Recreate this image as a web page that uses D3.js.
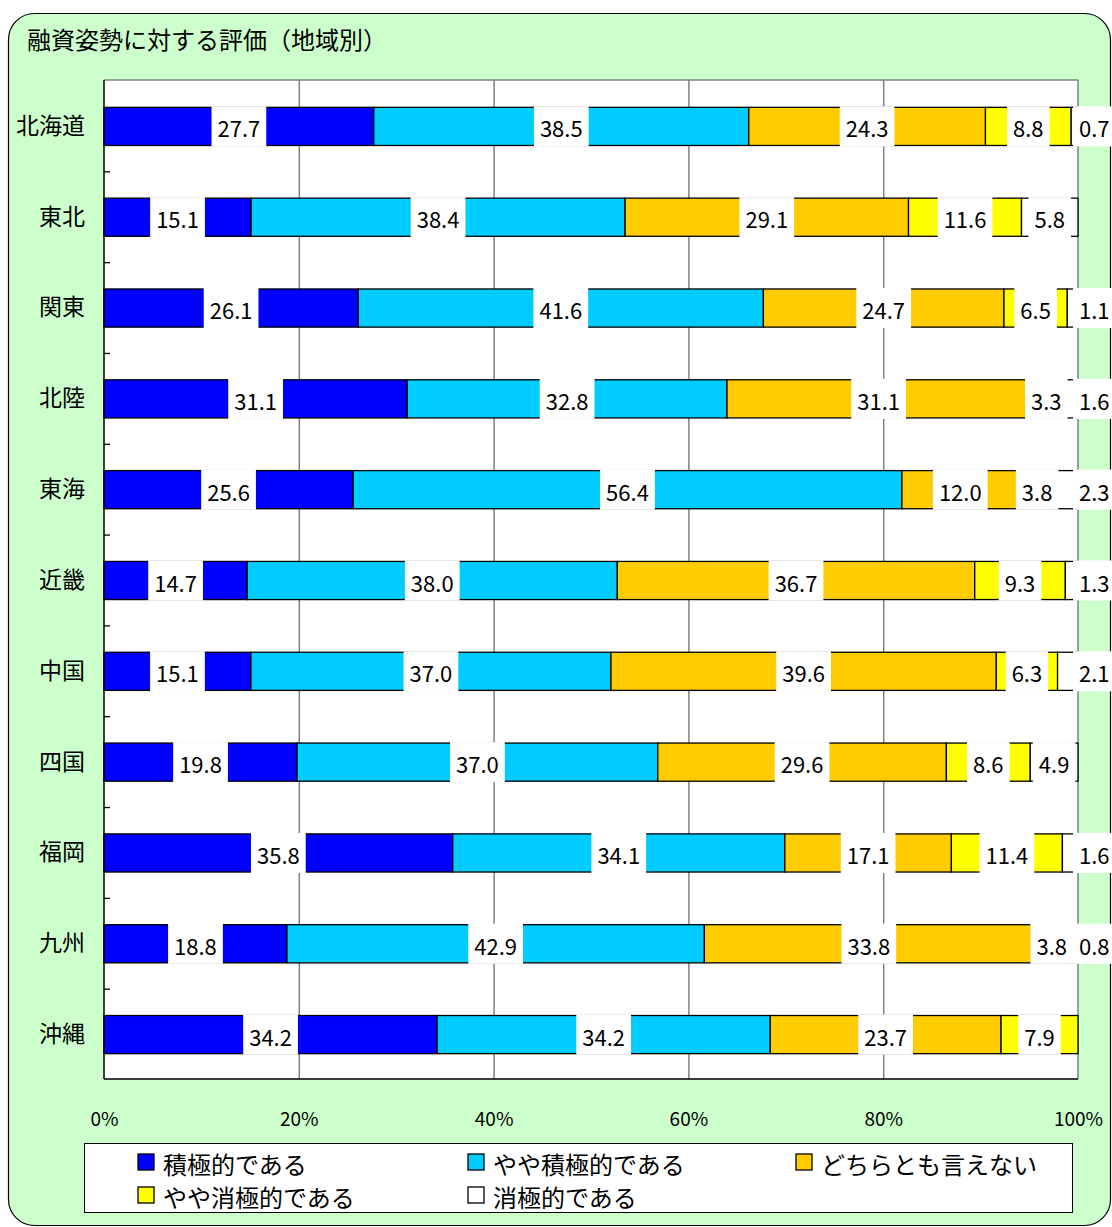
<!DOCTYPE html>
<html><head><meta charset="utf-8">
<script src="https://cdn.jsdelivr.net/npm/d3@7"></script>
<style>html,body{margin:0;padding:0;background:#fff;}svg{display:block;}</style>
</head><body>
<svg id="c" width="1112" height="1227"></svg>
<script>
const title = "融資姿勢に対する評価（地域別）";
const categories = ["北海道","東北","関東","北陸","東海","近畿","中国","四国","福岡","九州","沖縄"];
const seriesNames = ["積極的である","やや積極的である","どちらとも言えない","やや消極的である","消極的である"];
const seriesColors = ["#0000FF","#00CCFF","#FFCC00","#FFFF00","#FFFFFF"];
const positive     = [27.7,15.1,26.1,31.1,25.6,14.7,15.1,19.8,35.8,18.8,34.2];
const fairlyPos    = [38.5,38.4,41.6,32.8,56.4,38.0,37.0,37.0,34.1,42.9,34.2];
const neutral      = [24.3,29.1,24.7,31.1,12.0,36.7,39.6,29.6,17.1,33.8,23.7];
const fairlyNeg    = [8.8,11.6,6.5,3.3,3.8,9.3,6.3,8.6,11.4,3.8,7.9];
const negative     = [0.7,5.8,1.1,1.6,2.3,1.3,2.1,4.9,1.6,0.8,0.0];
const xTicks = [0,20,40,60,80,100];

const seriesValues = [positive,fairlyPos,neutral,fairlyNeg,negative];
const rows = categories.map((c,i)=>{
  const o={cat:c};
  seriesValues.forEach((s,k)=>o["s"+k]=s[i]);
  return o;
});
const keys = seriesNames.map((_,k)=>"s"+k);
const stacked = d3.stack().keys(keys).offset(d3.stackOffsetExpand)(rows);

const svg = d3.select("#c");
const JP = "'Noto Sans CJK JP', sans-serif";

// outer panel
svg.append("rect").attr("x",8.5).attr("y",13.5).attr("width",1102).attr("height",1212)
  .attr("rx",26).attr("ry",26).attr("fill","#CCFFCC").attr("stroke","#000").attr("stroke-width",1.2);

svg.append("text").attr("x",27).attr("y",49).attr("font-family",JP).attr("font-size",24)
  .attr("fill","#000").text(title);

const L=104, R=1078, T=80, B=1079;
const x = d3.scaleLinear().domain([0,1]).range([L,R]);
const xp = d3.scaleLinear().domain([0,100]).range([L,R]);
const y = d3.scaleBand().domain(categories).range([T+1,B+1]).paddingInner(0.58).paddingOuter(0.29);

svg.append("rect").attr("x",L).attr("y",T).attr("width",R-L).attr("height",B-T).attr("fill","#fff");

// gridlines
svg.append("g").attr("transform",`translate(0,${B})`)
  .call(d3.axisBottom(xp).tickValues(xTicks.slice(1,-1)).tickSize(-(B-T)).tickFormat(""))
  .call(g=>g.select(".domain").remove())
  .call(g=>g.selectAll("line").attr("stroke","#808080").attr("stroke-width",1.5));

// plot border
svg.append("line").attr("x1",L).attr("x2",R).attr("y1",T).attr("y2",T).attr("stroke","#808080").attr("stroke-width",1.5);
svg.append("line").attr("x1",R).attr("x2",R).attr("y1",T).attr("y2",B).attr("stroke","#808080").attr("stroke-width",1.5);

// bars
const layers = svg.append("g").selectAll("g").data(stacked).join("g")
  .attr("fill",(d,i)=>seriesColors[i]);
layers.selectAll("rect").data(d=>d).join("rect")
  .attr("x",d=>x(d[0])).attr("width",d=>Math.max(0,x(d[1])-x(d[0])))
  .attr("y",d=>y(d.data.cat)).attr("height",y.bandwidth())
  .attr("stroke","#000").attr("stroke-width",1.3);

// labels
const lab = svg.append("g");
stacked.forEach((layer,k)=>{
  layer.forEach((d,i)=>{
    const v = seriesValues[k][i];
    if(v<=0) return;
    const g = lab.append("g");
    const t = g.append("text").attr("font-family",JP).attr("font-size",22).attr("fill","#000")
      .attr("dominant-baseline","central").text(v.toFixed(1));
    const w = t.node().getComputedTextLength();
    const yc = y(d.data.cat)+y.bandwidth()/2;
    let cx;
    if(v<2.5){ cx = R + 1 + w/2; }
    else { cx = (x(d[0])+x(d[1]))/2; }
    t.attr("x",cx).attr("y",yc+1).attr("text-anchor","middle");
    g.insert("rect","text").attr("x",cx-w/2-6).attr("y",y(d.data.cat)-1).attr("width",w+12)
      .attr("height",y.bandwidth()+2).attr("fill","#fff");
  });
});

// left and bottom axis lines
svg.append("line").attr("x1",L).attr("x2",L).attr("y1",T).attr("y2",B).attr("stroke","#000").attr("stroke-width",1.5);
svg.append("line").attr("x1",L).attr("x2",R).attr("y1",B).attr("y2",B).attr("stroke","#000").attr("stroke-width",1.5);

// category ticks (inside, at band boundaries)
const bounds = categories.slice(1).map(c=>y(c)-y.step()*y.paddingInner()/2);
svg.append("g").selectAll("line").data(bounds).join("line")
  .attr("x1",L).attr("x2",L+6).attr("y1",d=>d).attr("y2",d=>d).attr("stroke","#000").attr("stroke-width",1.3);

// category labels
svg.append("g").attr("transform",`translate(${L-19},0)`)
  .call(d3.axisLeft(y).tickSize(0).tickPadding(0))
  .call(g=>g.select(".domain").remove())
  .call(g=>g.selectAll("text").attr("font-family",JP).attr("font-size",23).attr("fill","#000"));

// x tick labels
svg.append("g").attr("transform",`translate(0,${B+33})`)
  .call(d3.axisBottom(xp).tickValues(xTicks).tickSize(0).tickPadding(0).tickFormat(d=>d+"%"))
  .call(g=>g.select(".domain").remove())
  .call(g=>g.selectAll("text").attr("font-family",JP).attr("font-size",19).attr("fill","#000"));

// legend
svg.append("rect").attr("x",84.5).attr("y",1143.5).attr("width",988).attr("height",69)
  .attr("fill","#fff").attr("stroke","#000").attr("stroke-width",1);
const legPos = [[138,1162],[468,1162],[796,1162],[138,1195],[468,1195]];
const leg = svg.append("g").selectAll("g").data(seriesNames).join("g")
  .attr("transform",(d,i)=>`translate(${legPos[i][0]},${legPos[i][1]})`);
leg.append("rect").attr("x",0).attr("y",-8).attr("width",16).attr("height",16)
  .attr("fill",(d,i)=>seriesColors[i]).attr("stroke","#000").attr("stroke-width",1.3);
leg.append("text").attr("x",25).attr("y",1).attr("dominant-baseline","central")
  .attr("font-family",JP).attr("font-size",24).attr("fill","#000").text(d=>d);
</script>
</body></html>
